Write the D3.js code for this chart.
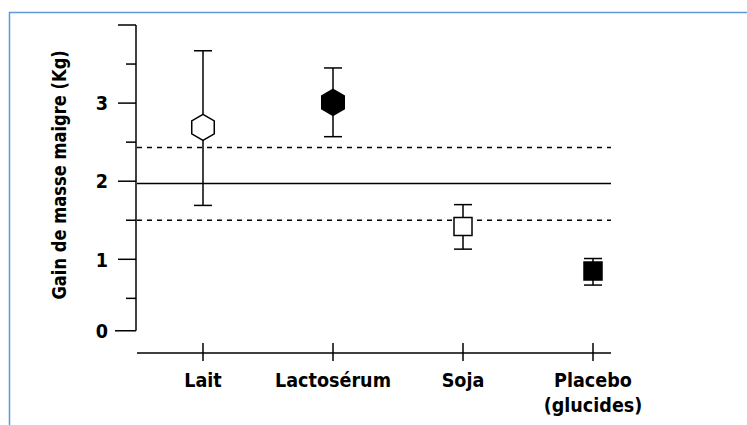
<!DOCTYPE html>
<html><head><meta charset="utf-8">
<script src="https://cdn.jsdelivr.net/npm/d3@7"></script>
<style>
html,body{margin:0;padding:0;background:#fff;}
svg text{font-family:"DejaVu Sans",sans-serif;font-weight:bold;fill:#000;}
</style></head>
<body><svg id="c" width="747" height="425"></svg>
<script>
const categories = ["Lait", "Lactosérum", "Soja", "Placebo|(glucides)"];
const means = [2.69, 3.01, 1.42, 0.85];
const lows = [1.69, 2.57, 1.13, 0.67];
const highs = [3.67, 3.45, 1.70, 1.01];
const shapes = ["hexagon", "hexagon", "square", "square"];
const filled = [false, true, false, true];
const refMean = 1.97;
const refBand = [1.50, 2.43];
const yMajorTicks = [1, 2, 3, 4];
const yTickLabels = ["1", "2", "3", ""];
const yMinorTicks = [0.5, 1.5, 2.5, 3.5];
const yFloor = 0.085;      // broken-axis floor drawn as "0"
const yTitle = "Gain de masse maigre (Kg)";

const svg = d3.select("#c");

// frame
svg.append("line").attr("x1", 9).attr("x2", 747).attr("y1", 12.5).attr("y2", 12.5)
  .attr("stroke", "#5b9bdc").attr("stroke-width", 1.5);
svg.append("line").attr("x1", 9.5).attr("x2", 9.5).attr("y1", 12).attr("y2", 425)
  .attr("stroke", "#5b9bdc").attr("stroke-width", 1.5);

const y = d3.scaleLinear().domain([0, 4]).range([337.4, 25]);
const x = d3.scalePoint().domain(categories).range([203, 593]);
const axisX = 136;
const xAxisY = 353;
const squeeze = 0.88;

// y axis
const gy = svg.append("g").attr("transform", `translate(${axisX},0)`);
gy.append("line").attr("x1", 0).attr("x2", 0).attr("y1", y(4)).attr("y2", y(yFloor))
  .attr("stroke", "#000").attr("stroke-width", 1.5);
gy.selectAll(".maj").data(yMajorTicks).join("line")
  .attr("x1", -18).attr("x2", 0).attr("y1", d => y(d)).attr("y2", d => y(d))
  .attr("stroke", "#000").attr("stroke-width", 1.5);
gy.selectAll(".min").data(yMinorTicks).join("line").attr("class","min")
  .attr("x1", -10).attr("x2", 0).attr("y1", d => y(d)).attr("y2", d => y(d))
  .attr("stroke", "#000").attr("stroke-width", 1.5);
gy.append("line").attr("x1", -21).attr("x2", 0).attr("y1", y(yFloor)).attr("y2", y(yFloor))
  .attr("stroke", "#000").attr("stroke-width", 1.5);
gy.selectAll(".lab").data(yMajorTicks).join("text").attr("class","lab")
  .attr("transform", d => `translate(-28,${y(d)}) scale(${squeeze},1)`).attr("dy", "0.36em")
  .attr("text-anchor", "end").attr("font-size", 20)
  .text((d, i) => yTickLabels[i]);
gy.append("text").attr("transform", `translate(-28,${y(yFloor)}) scale(${squeeze},1)`).attr("dy", "0.36em")
  .attr("text-anchor", "end").attr("font-size", 20).text("0");

svg.append("text").attr("transform", `translate(66,${(y(4)+y(yFloor))/2 - 3}) rotate(-90) scale(0.86,1)`)
  .attr("text-anchor", "middle").attr("font-size", 19).text(yTitle);

// x axis
const xEnd = 611;
svg.append("line").attr("x1", 137).attr("x2", xEnd).attr("y1", xAxisY).attr("y2", xAxisY)
  .attr("stroke", "#000").attr("stroke-width", 1.5);
svg.selectAll(".xt").data(categories).join("line").attr("class","xt")
  .attr("x1", d => x(d)).attr("x2", d => x(d)).attr("y1", xAxisY - 10).attr("y2", xAxisY + 8)
  .attr("stroke", "#000").attr("stroke-width", 1.5);
svg.selectAll(".xl").data(categories).join("text").attr("class","xl")
  .attr("transform", d => `translate(${x(d)},387) scale(${squeeze},1)`)
  .attr("text-anchor", "middle").attr("font-size", 20)
  .each(function(d) {
    const parts = d.split("|");
    d3.select(this).selectAll("tspan").data(parts).join("tspan")
      .attr("x", 0).attr("dy", (p, i) => i === 0 ? 0 : 25).text(p => p);
  });

// reference lines
const x0 = 137;
svg.append("line").attr("x1", x0).attr("x2", xEnd).attr("y1", y(refMean)).attr("y2", y(refMean))
  .attr("stroke", "#000").attr("stroke-width", 1.5);
svg.selectAll(".band").data(refBand).join("line").attr("class","band")
  .attr("x1", x0).attr("x2", xEnd).attr("y1", d => y(d)).attr("y2", d => y(d))
  .attr("stroke", "#000").attr("stroke-width", 1.5).attr("stroke-dasharray", "5,5");

// error bars
const g = svg.append("g");
categories.forEach((c, i) => {
  const cx = x(c);
  g.append("line").attr("x1", cx).attr("x2", cx).attr("y1", y(highs[i])).attr("y2", y(lows[i]))
    .attr("stroke", "#000").attr("stroke-width", 1.5);
  [highs[i], lows[i]].forEach(v => {
    g.append("line").attr("x1", cx - 9).attr("x2", cx + 9).attr("y1", y(v)).attr("y2", y(v))
      .attr("stroke", "#000").attr("stroke-width", 1.5);
  });
  const cy = y(means[i]);
  if (shapes[i] === "hexagon") {
    const r = 13;
    const pts = d3.range(6).map(k => {
      const a = Math.PI / 3 * k - Math.PI / 2;
      return [cx + r * Math.cos(a), cy + r * Math.sin(a)];
    });
    g.append("polygon").attr("points", pts.map(p => p.join(",")).join(" "))
      .attr("fill", filled[i] ? "#000" : "#fff").attr("stroke", "#000").attr("stroke-width", 1.5);
  } else {
    const s = 18;
    g.append("rect").attr("x", cx - s / 2).attr("y", cy - s / 2).attr("width", s).attr("height", s)
      .attr("fill", filled[i] ? "#000" : "#fff").attr("stroke", "#000").attr("stroke-width", 1.5);
  }
});
</script></body></html>
